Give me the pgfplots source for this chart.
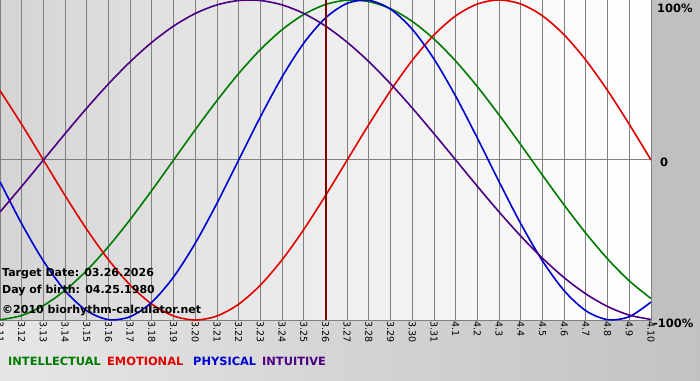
\documentclass[border=0pt]{standalone}
\usepackage{pgfplots}
\pgfplotsset{compat=1.18}
\usepackage{fontspec}
\setmainfont{DejaVu Sans}
\definecolor{plotleft}{HTML}{D4D4D4}
\definecolor{plotright}{HTML}{FFFFFF}
\definecolor{botleft}{HTML}{E6E6E6}
\definecolor{botright}{HTML}{C2C2C2}
\definecolor{panel}{HTML}{C0C0C0}
\definecolor{gridgray}{HTML}{808080}
\definecolor{intel}{HTML}{007A00}
\definecolor{emo}{HTML}{E00000}
\definecolor{phys}{HTML}{0000D0}
\definecolor{intu}{HTML}{4B0082}
\definecolor{target}{HTML}{800000}
\begin{document}
\begin{tikzpicture}[x=1pt,y=1pt]
\useasboundingbox (0,0) rectangle (700,380);
\clip (0,0) rectangle (700,380);
\shade[left color=botleft, right color=botright] (0,0) rectangle (700,380);
\fill[panel] (651,60) rectangle (700,380);
\begin{axis}[
  at={(0pt,60pt)}, anchor=south west,
  scale only axis, width=651pt, height=320pt,
  xmin=0, xmax=30, ymin=-1, ymax=1,
  axis background/.style={left color=plotleft, right color=plotright, middle color=plotright!60!plotleft},
  axis line style={gridgray, line width=1pt},
  xtick={0,...,30},
  xticklabels={3.11,3.12,3.13,3.14,3.15,3.16,3.17,3.18,3.19,3.20,3.21,3.22,3.23,3.24,3.25,3.26,3.27,3.28,3.29,3.30,3.31,4.1,4.2,4.3,4.4,4.5,4.6,4.7,4.8,4.9,4.10},
  xticklabel style={rotate=-90, anchor=west, font=\fontsize{9.5}{10}\selectfont, inner sep=1pt, xshift=0pt},
  ytick={0}, yticklabels={},
  xmajorgrids, ymajorgrids,
  grid style={gridgray, line width=1pt},
  major tick length=4pt,
  tick style={gridgray, line width=1pt},
  tick pos=bottom,
  ytick style={draw=none},
  clip=true,
]
\addplot[intel, line width=1.6pt, smooth] coordinates {
(0,-0.9989) (1,-0.9718) (2,-0.9096) (3,-0.8146) (4,-0.6901) (5,-0.5406) (6,-0.3717) (7,-0.1893)
(8,0) (9,0.1893) (10,0.3717) (11,0.5406) (12,0.6901) (13,0.8146) (14,0.9096) (15,0.9718)
(16,0.9989) (17,0.9898) (18,0.9450) (19,0.8660) (20,0.7557) (21,0.6182) (22,0.4582) (23,0.2817)
(24,0.0951) (25,-0.0951) (26,-0.2817) (27,-0.4582) (28,-0.6182) (29,-0.7557) (30,-0.8660)};
\addplot[emo, line width=1.6pt, smooth] coordinates {
(0,0.4339) (1,0.2225) (2,0) (3,-0.2225) (4,-0.4339) (5,-0.6235) (6,-0.7818) (7,-0.9010)
(8,-0.9749) (9,-1) (10,-0.9749) (11,-0.9010) (12,-0.7818) (13,-0.6235) (14,-0.4339) (15,-0.2225)
(16,0) (17,0.2225) (18,0.4339) (19,0.6235) (20,0.7818) (21,0.9010) (22,0.9749) (23,1)
(24,0.9749) (25,0.9010) (26,0.7818) (27,0.6235) (28,0.4339) (29,0.2225) (30,0)};
\addplot[phys, line width=1.6pt, smooth] coordinates {
(0,-0.1362) (1,-0.3984) (2,-0.6310) (3,-0.8170) (4,-0.9423) (5,-0.9977) (6,-0.9791) (7,-0.8879)
(8,-0.7308) (9,-0.5196) (10,-0.2698) (11,0) (12,0.2698) (13,0.5196) (14,0.7308) (15,0.8879)
(16,0.9791) (17,0.9977) (18,0.9423) (19,0.8170) (20,0.6310) (21,0.3984) (22,0.1362) (23,-0.1362)
(24,-0.3984) (25,-0.6310) (26,-0.8170) (27,-0.9423) (28,-0.9977) (29,-0.9791) (30,-0.8879)};
\addplot[intu, line width=1.6pt, smooth] coordinates {
(0,-0.3247) (1,-0.1646) (2,0) (3,0.1646) (4,0.3247) (5,0.4759) (6,0.6142) (7,0.7357)
(8,0.8372) (9,0.9158) (10,0.9694) (11,0.9966) (12,0.9966) (13,0.9694) (14,0.9158) (15,0.8372)
(16,0.7357) (17,0.6142) (18,0.4759) (19,0.3247) (20,0.1646) (21,0) (22,-0.1646) (23,-0.3247)
(24,-0.4759) (25,-0.6142) (26,-0.7357) (27,-0.8372) (28,-0.9158) (29,-0.9694) (30,-0.9966)};
\addplot[target, line width=2pt] coordinates {(15,-1) (15,1)};
\end{axis}
\begin{scope}[font=\fontsize{11}{12}\bfseries]
\node[anchor=base west, inner sep=0pt] at (2,103) {Target Date: 03.26.2026};
\node[anchor=base west, inner sep=0pt] at (2,87) {Day of birth: 04.25.1980};
\node[anchor=base west, inner sep=0pt] at (2,67) {©2010 biorhythm-calculator.net};
\end{scope}
\begin{scope}[font=\fontsize{11.5}{12}\bfseries]
\node[anchor=base west, inner sep=0pt] at (657,367) {100\%};
\node[anchor=base west, inner sep=0pt] at (660,213) {0};
\node[anchor=base west, inner sep=0pt] at (653,53) {-100\%};
\end{scope}
\begin{scope}[font=\fontsize{11.4}{12}\bfseries]
\node[anchor=base west, inner sep=0pt, text=intel] at (8,15) {INTELLECTUAL};
\node[anchor=base west, inner sep=0pt, text=emo] at (107,15) {EMOTIONAL};
\node[anchor=base west, inner sep=0pt, text=phys] at (193,15) {PHYSICAL};
\node[anchor=base west, inner sep=0pt, text=intu] at (262,15) {INTUITIVE};
\end{scope}
\end{tikzpicture}
\end{document}
